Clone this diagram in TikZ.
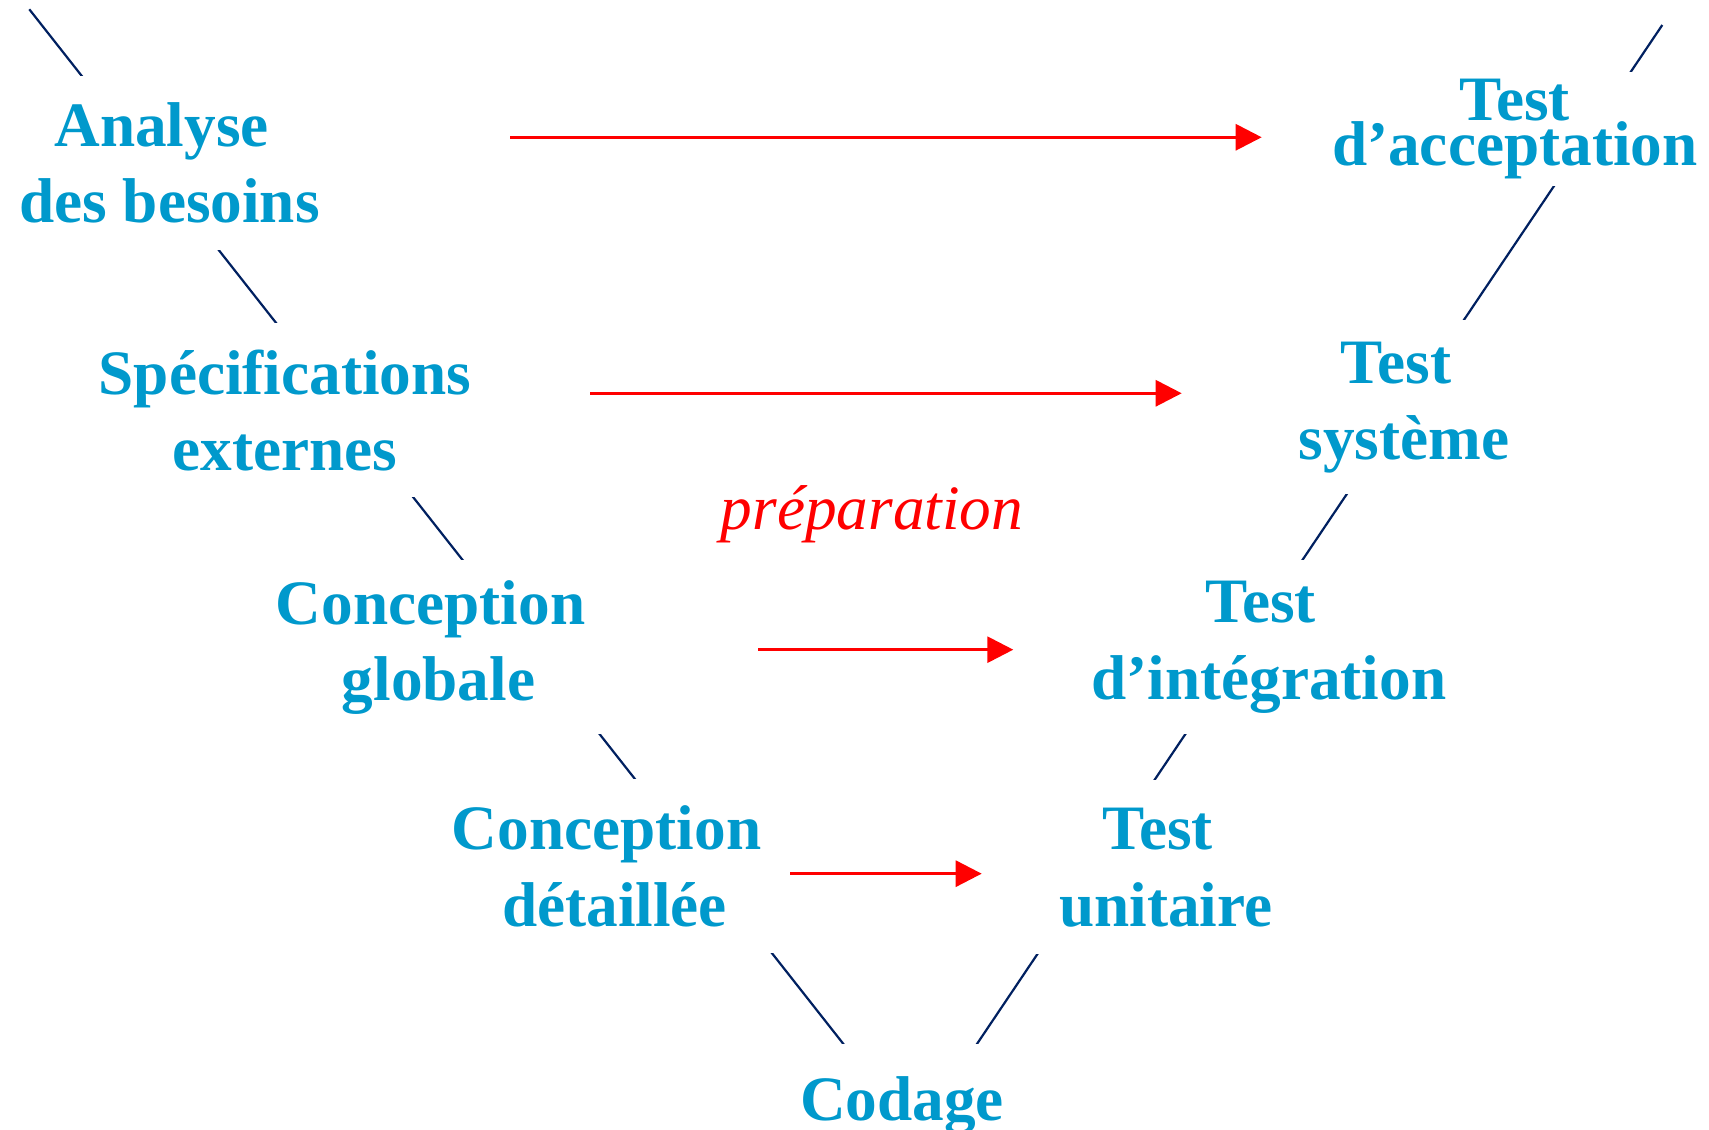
\documentclass[tikz,border=0pt]{standalone}
\usepackage{fontspec}
\setmainfont{Liberation Serif}
\usetikzlibrary{calc, arrows.meta}

\definecolor{etape}{RGB}{0,153,204}
\definecolor{trait}{RGB}{0,32,96}

\begin{document}
\begin{tikzpicture}[
	stage/.style = {fill = white, text = etape, align = center, inner xsep = 3mm, inner ysep = 0pt,
		minimum height = 17.4mm, font = \bfseries\fontsize{18}{21.8}\selectfont},
	prep/.style = {draw = red, line width = 0.3mm, -{Triangle[length = 2.6mm, width = 2.6mm]}}]
	\useasboundingbox (0,0) rectangle (17.09,11.30);
	% le V, masque par les etapes
	\coordinate (VL) at (0.293,11.207);
	\coordinate (VB) at (9.154,-0.055);
	\coordinate (VR) at (16.623,11.05);
	\draw[draw = trait, line width = 0.22mm] (VL) -- (VB) -- (VR);
	% branche descendante
	\node[stage] (ANA)  at (1.695,9.67)  {Analyse\kern.25em\\des besoins};
	\node[stage] (SPEC) at (2.85,7.195)  {Spécifications\\externes};
	\node[stage] (CG)   at (4.385,4.825) {Conception\kern.25em\\globale};
	\node[stage] (CD)   at (6.145,2.635) {Conception\kern.25em\\détaillée};
	\node[stage, minimum height = 12.3mm] (COD) at (9.02,0.245) {Codage};
	% branche montante
	\node[stage] (TU) at (11.658,2.625) {Test\kern.25em\\unitaire};
	\node[stage] (TI) at (12.688,4.825) {Test\kern.25em\\d’intégration};
	\node[stage] (TS) at (14.039,7.225) {Test\kern.25em\\système};
	\node[stage, minimum height = 11.4mm, font = \bfseries\fontsize{18}{13}\selectfont]
		(TA) at (15.148,10.01) {Test\\d’acceptation};
	% preparation des tests
	\draw[prep, shorten <= 34.05mm, shorten >= 25.31mm]
		($(TA.center -| ANA.center)+(0,-0.083)$) -- ($(TA.center)+(0,-0.083)$);
	\draw[prep, shorten <= 30.5mm, shorten >= 22.22mm]
		($(TS.center -| SPEC.center)+(0,0.142)$) -- ($(TS.center)+(0,0.142)$);
	\draw[prep, shorten <= 31.95mm, shorten >= 25.55mm]
		($(TI.center -| CG.center)+(0,-0.022)$) -- ($(TI.center)+(0,-0.022)$);
	\draw[prep, shorten <= 17.55mm, shorten >= 18.41mm]
		($(TU.center -| CD.center)+(0,-0.062)$) -- ($(TU.center)+(0,-0.062)$);
	\node[text = red, font = \itshape\fontsize{18}{21.8}\selectfont, anchor = base]
		(PREP) at (8.72,6.0) {préparation};
\end{tikzpicture}
\end{document}
